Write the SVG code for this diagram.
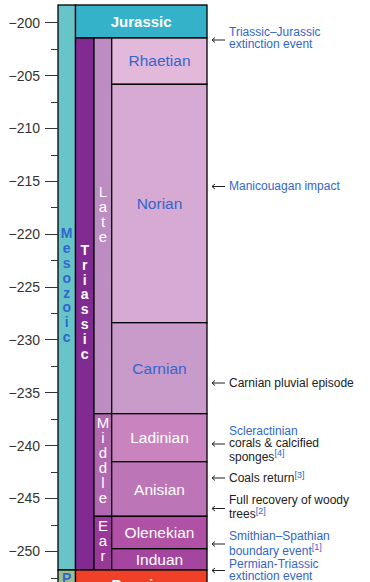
<svg xmlns="http://www.w3.org/2000/svg" width="370" height="582" viewBox="0 0 370 582">
<style>
.box{stroke:#000;stroke-width:1.3}
.ax{font-family:'Liberation Sans',Arial,sans-serif;font-size:14px;fill:#333;text-anchor:end}
.tk{stroke:#333;stroke-width:1;fill:none}
.st{font-family:'Liberation Sans',Arial,sans-serif;font-size:15.5px;text-anchor:middle}
.bold{font-family:'Liberation Sans',Arial,sans-serif;font-weight:bold;font-size:15px;text-anchor:middle}
.vb{font-family:'Liberation Sans',Arial,sans-serif;font-weight:bold;font-size:14px;text-anchor:middle}
.vr{font-family:'Liberation Sans',Arial,sans-serif;font-size:15px;text-anchor:middle}
.an{font-family:'Liberation Sans',Arial,sans-serif;font-size:12px}
.sup{font-size:9px;fill:#3366cc}
.blue{fill:#3366cc}
.blk{fill:#202122}
.wh{fill:#ffffff}
.arr{stroke:#202122;stroke-width:1;fill:none}
</style>

<g id="axis">
  <path class="tk" d="M45,22.5H57.5 M45,75.5H57.5 M45,128.5H57.5 M45,181.5H57.5 M45,234.5H57.5 M45,287.5H57.5 M45,339.5H57.5 M45,392.5H57.5 M45,445.5H57.5 M45,498.5H57.5 M45,551.5H57.5"/>
  <path class="tk" d="M51,49.5H57.5 M51,102.5H57.5 M51,155.5H57.5 M51,207.5H57.5 M51,260.5H57.5 M51,313.5H57.5 M51,366.5H57.5 M51,419.5H57.5 M51,472.5H57.5 M51,525.5H57.5 M51,578.5H57.5"/>
  <text class="ax" x="40" y="27.7">−200</text>
  <text class="ax" x="40" y="80.5">−205</text>
  <text class="ax" x="40" y="133.4">−210</text>
  <text class="ax" x="40" y="186.2">−215</text>
  <text class="ax" x="40" y="239.1">−220</text>
  <text class="ax" x="40" y="291.9">−225</text>
  <text class="ax" x="40" y="344.8">−230</text>
  <text class="ax" x="40" y="397.6">−235</text>
  <text class="ax" x="40" y="450.5">−240</text>
  <text class="ax" x="40" y="503.3">−245</text>
  <text class="ax" x="40" y="556.2">−250</text>
</g>

<g id="mesozoic">
  <rect class="box" x="58" y="5" width="17.5" height="565" fill="#67c5ca"/>
  <text class="vb blue">
    <tspan x="66.7" y="238.3">M</tspan><tspan x="66.7" y="253.1">e</tspan><tspan x="66.7" y="267.9">s</tspan><tspan x="66.7" y="282.7">o</tspan><tspan x="66.7" y="297.5">z</tspan><tspan x="66.7" y="312.3">o</tspan><tspan x="66.7" y="327.1">i</tspan><tspan x="66.7" y="341.9">c</tspan>
  </text>
</g>

<g id="paleozoic">
  <rect class="box" x="58" y="570" width="17.5" height="20" fill="#99c08d"/>
  <text class="vb blue" x="66.7" y="582.5">P</text>
</g>

<g id="jurassic">
  <rect class="box" x="75.5" y="5" width="131.5" height="33" fill="#34b2c9"/>
  <text class="bold wh" x="141.2" y="27">Jurassic</text>
</g>

<g id="triassic">
  <rect class="box" x="75.5" y="38" width="18.5" height="532" fill="#812b92"/>
  <text class="vb wh">
    <tspan x="84.7" y="255">T</tspan><tspan x="84.7" y="269.8">r</tspan><tspan x="84.7" y="284.6">i</tspan><tspan x="84.7" y="299.4">a</tspan><tspan x="84.7" y="314.2">s</tspan><tspan x="84.7" y="329">s</tspan><tspan x="84.7" y="343.8">i</tspan><tspan x="84.7" y="358.6">c</tspan>
  </text>
</g>

<g id="late-triassic">
  <rect class="box" x="94" y="38" width="17.7" height="375.7" fill="#bd8cc3"/>
  <text class="vr wh">
    <tspan x="103" y="196.7">L</tspan><tspan x="103" y="211.7">a</tspan><tspan x="103" y="226.7">t</tspan><tspan x="103" y="241.7">e</tspan>
  </text>
</g>

<g id="middle-triassic">
  <rect class="box" x="94" y="413.7" width="17.7" height="102.6" fill="#b168b1"/>
  <text class="vr wh">
    <tspan x="103" y="428.3">M</tspan><tspan x="103" y="443.3">i</tspan><tspan x="103" y="458.3">d</tspan><tspan x="103" y="473.3">d</tspan><tspan x="103" y="488.3">l</tspan><tspan x="103" y="503.3">e</tspan>
  </text>
</g>

<g id="early-triassic">
  <rect class="box" x="94" y="516.3" width="17.7" height="53.7" fill="#983999"/>
  <text class="vr wh">
    <tspan x="103" y="530.7">E</tspan><tspan x="103" y="545.7">a</tspan><tspan x="103" y="560.7">r</tspan>
  </text>
</g>

<g id="rhaetian">
  <rect class="box" x="111.7" y="38" width="95.3" height="46.3" fill="#e3b9db"/>
  <text class="st blue" x="159.5" y="66">Rhaetian</text>
</g>
<g id="norian">
  <rect class="box" x="111.7" y="84.3" width="95.3" height="238.4" fill="#d6aad3"/>
  <text class="st blue" x="159.5" y="209">Norian</text>
</g>
<g id="carnian">
  <rect class="box" x="111.7" y="322.7" width="95.3" height="91" fill="#c99bcb"/>
  <text class="st blue" x="159.5" y="373.5">Carnian</text>
</g>
<g id="ladinian">
  <rect class="box" x="111.7" y="413.7" width="95.3" height="48" fill="#c983bf"/>
  <text class="st wh" x="159.5" y="443">Ladinian</text>
</g>
<g id="anisian">
  <rect class="box" x="111.7" y="461.7" width="95.3" height="54.6" fill="#bc75b7"/>
  <text class="st wh" x="159.5" y="494.5">Anisian</text>
</g>
<g id="olenekian">
  <rect class="box" x="111.7" y="516.3" width="95.3" height="32.4" fill="#b051a5"/>
  <text class="st wh" x="159.5" y="538">Olenekian</text>
</g>
<g id="induan">
  <rect class="box" x="111.7" y="548.7" width="95.3" height="21.3" fill="#a4469f"/>
  <text class="st wh" x="159.5" y="564.8">Induan</text>
</g>

<g id="permian">
  <rect class="box" x="75.5" y="570" width="131.5" height="20" fill="#f04028"/>
  <text class="bold wh" x="141.2" y="590">Permian</text>
</g>

<g id="connectors">
  <path class="arr" d="M225,40H212 M215,37.5L212,40L215,42.5"/>
  <path class="arr" d="M225,186.5H212 M215,184L212,186.5L215,189"/>
  <path class="arr" d="M225,383H212 M215,380.5L212,383L215,385.5"/>
  <path class="arr" d="M225,444H212 M215,441.5L212,444L215,446.5"/>
  <path class="arr" d="M225,478H212 M215,475.5L212,478L215,480.5"/>
  <path class="arr" d="M225,508.5H212 M215,506L212,508.5L215,511"/>
  <path class="arr" d="M225,544H212 M215,541.5L212,544L215,546.5"/>
  <path class="arr" d="M225,570.5H212 M215,568L212,570.5L215,573"/>
</g>

<g id="events">
  <text class="an blue"><tspan x="229" y="36">Triassic–Jurassic</tspan><tspan x="229" y="48.3">extinction event</tspan></text>
  <text class="an blue" x="229" y="189.5">Manicouagan impact</text>
  <text class="an blk" x="229" y="386.7">Carnian pluvial episode</text>
  <text class="an"><tspan class="blue" x="229" y="435">Scleractinian</tspan><tspan class="blk" x="229" y="446.5">corals &amp; calcified</tspan><tspan class="blk" x="229" y="460.7">sponges</tspan><tspan class="sup" dy="-4.5">[4]</tspan></text>
  <text class="an blk" x="229" y="482">Coals return<tspan class="sup" dy="-4">[3]</tspan></text>
  <text class="an blk"><tspan x="229" y="503.7">Full recovery of woody</tspan><tspan x="229" y="518.3">trees</tspan><tspan class="sup" dy="-4">[2]</tspan></text>
  <text class="an blue"><tspan x="229" y="540">Smithian–Spathian</tspan><tspan x="229" y="555">boundary event</tspan><tspan class="sup" dy="-5">[1]</tspan></text>
  <text class="an blue"><tspan x="229" y="567.7">Permian-Triassic</tspan><tspan x="229" y="580">extinction event</tspan></text>
</g>
</svg>
